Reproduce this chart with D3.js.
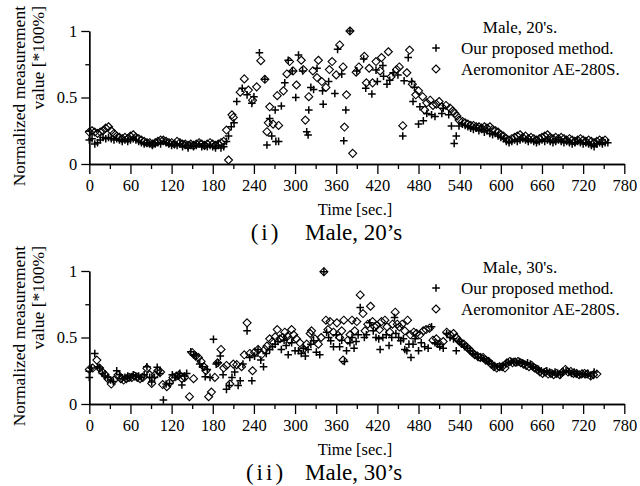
<!DOCTYPE html>
<html>
<head>
<meta charset="utf-8">
<script src="https://cdn.jsdelivr.net/npm/d3@7"></script>
<style>
  body { margin: 0; background: #fff; }
  svg { font-family: "Liberation Serif", "Times New Roman", serif; }
  .axis path, .axis line { stroke: #000; stroke-width: 1.3; }
  .axis text { font-size: 16.5px; fill: #000; font-family: "Liberation Serif", serif; }
</style>
</head>
<body>
<div id="container"></div>
<script>
const xMajor = [0, 60, 120, 180, 240, 300, 360, 420, 480, 540, 600, 660, 720, 780]
const xMinor = [30, 90, 150, 210, 270, 330, 390, 450, 510, 570, 630, 690, 750]
const yMajor = [0, 0.5, 1]
const yMinor = [0.25, 0.75]
const seriesNames = ['Our proposed method.', 'Aeromonitor AE-280S.']

// Male, 20's  [time sec, normalized value]
const proposed20 = [[0,0.18],[4,0.19],[8,0.15],[12,0.16],[16,0.18],[20,0.20],[24,0.19],[28,0.20],[32,0.19],[36,0.18],[40,0.19],[44,0.18],[48,0.17],[52,0.18],[56,0.17],[60,0.18],[64,0.19],[68,0.18],[72,0.17],[76,0.16],[80,0.15],[84,0.16],[88,0.15],[92,0.14],[96,0.15],[100,0.16],[104,0.15],[108,0.17],[112,0.16],[116,0.15],[120,0.14],[124,0.15],[128,0.14],[132,0.15],[136,0.13],[140,0.14],[144,0.12],[148,0.14],[152,0.13],[156,0.14],[160,0.15],[164,0.13],[168,0.14],[172,0.13],[176,0.14],[180,0.13],[184,0.12],[188,0.14],[192,0.12],[196,0.13],[200,0.17],[203,0.21],[207,0.28],[211,0.31],[215,0.47],[223,0.57],[230,0.52],[237,0.456],[240,0.505],[248,0.837],[256,0.637],[259,0.143],[263,0.343],[266,0.21],[271,0.406],[272,0.17],[276,0.17],[280,0.436],[285,0.61],[290,0.78],[296,0.70],[301,0.50],[305,0.82],[311,0.70],[317,0.243],[319,0.218],[320,0.406],[323,0.576],[327,0.56],[332,0.72],[340,0.55],[341,0.45],[349,0.62],[358,0.53],[362,0.862],[368,0.676],[371,0.175],[374,0.406],[380,1.0],[390,0.70],[400,0.79],[403,0.57],[412,0.526],[418,0.706],[420,0.62],[428,0.74],[429,0.66],[434,0.60],[438,0.63],[443,0.686],[450,0.669],[457,0.21],[459,0.626],[465,0.80],[470,0.62],[472,0.47],[474,0.577],[480,0.30],[482,0.43],[487,0.325],[492,0.38],[499,0.37],[504,0.357],[514,0.38],[516,0.42],[524,0.37],[528,0.286],[532,0.155],[535,0.21],[539,0.286],[544,0.30],[548,0.29],[552,0.28],[556,0.27],[560,0.26],[564,0.27],[568,0.25],[572,0.26],[576,0.24],[580,0.25],[584,0.23],[588,0.22],[592,0.23],[596,0.21],[600,0.20],[604,0.19],[608,0.17],[612,0.16],[616,0.17],[620,0.18],[624,0.17],[628,0.18],[632,0.19],[636,0.18],[640,0.17],[644,0.18],[648,0.17],[652,0.16],[656,0.17],[660,0.18],[664,0.17],[668,0.18],[672,0.17],[676,0.16],[680,0.17],[684,0.18],[688,0.17],[692,0.16],[696,0.17],[700,0.16],[704,0.15],[708,0.16],[712,0.17],[716,0.16],[720,0.15],[724,0.16],[728,0.15],[732,0.14],[736,0.13],[740,0.15],[744,0.16],[748,0.15],[752,0.16],[756,0.16]]

const aero20 = [[0,0.24],[4,0.25],[8,0.24],[12,0.23],[16,0.24],[20,0.25],[24,0.27],[28,0.28],[32,0.25],[36,0.23],[40,0.21],[44,0.20],[48,0.19],[52,0.20],[56,0.19],[60,0.21],[64,0.22],[68,0.20],[72,0.19],[76,0.18],[80,0.17],[84,0.16],[88,0.16],[92,0.15],[96,0.16],[100,0.17],[104,0.18],[108,0.18],[112,0.17],[116,0.16],[120,0.16],[124,0.15],[128,0.17],[132,0.16],[136,0.15],[140,0.15],[144,0.14],[148,0.15],[152,0.14],[156,0.15],[160,0.16],[164,0.15],[168,0.14],[172,0.15],[176,0.16],[180,0.15],[184,0.14],[188,0.15],[192,0.16],[196,0.17],[200,0.255],[203,0.03],[208,0.37],[210,0.35],[220,0.54],[226,0.64],[232,0.556],[238,0.48],[244,0.58],[250,0.777],[256,0.637],[259,0.243],[261,0.31],[263,0.43],[268,0.30],[274,0.514],[276,0.29],[283,0.55],[288,0.677],[292,0.77],[297,0.70],[302,0.594],[309,0.78],[312,0.71],[315,0.33],[320,0.506],[326,0.70],[332,0.65],[334,0.78],[339,0.62],[345,0.576],[350,0.71],[354,0.77],[360,0.67],[365,0.895],[370,0.73],[372,0.278],[375,0.52],[380,1.0],[384,0.08],[389,0.69],[393,0.73],[401,0.81],[404,0.61],[408,0.72],[413,0.61],[418,0.77],[424,0.70],[426,0.80],[436,0.844],[440,0.656],[448,0.711],[452,0.73],[457,0.288],[463,0.686],[467,0.857],[471,0.60],[476,0.52],[480,0.55],[486,0.506],[489,0.406],[492,0.46],[497,0.48],[501,0.44],[506,0.45],[510,0.47],[514,0.43],[520,0.44],[526,0.42],[530,0.40],[533,0.38],[536,0.36],[539,0.33],[544,0.32],[548,0.31],[552,0.30],[556,0.29],[560,0.29],[564,0.28],[568,0.28],[572,0.27],[576,0.28],[580,0.27],[584,0.28],[588,0.26],[592,0.25],[596,0.24],[600,0.22],[604,0.21],[608,0.19],[612,0.18],[616,0.19],[620,0.20],[624,0.21],[628,0.22],[632,0.20],[636,0.21],[640,0.19],[644,0.20],[648,0.19],[652,0.18],[656,0.19],[660,0.20],[664,0.21],[668,0.22],[672,0.20],[676,0.19],[680,0.20],[684,0.19],[688,0.20],[692,0.19],[696,0.18],[700,0.19],[704,0.18],[708,0.17],[712,0.18],[716,0.19],[720,0.18],[724,0.17],[728,0.18],[732,0.17],[736,0.16],[740,0.17],[744,0.18],[748,0.17],[752,0.18]]

// Male, 30's
const proposed30 = [[0,0.20],[3,0.27],[8,0.38],[12,0.28],[15,0.27],[19,0.23],[23,0.21],[27,0.20],[31,0.18],[35,0.17],[40,0.25],[44,0.22],[48,0.19],[52,0.20],[56,0.21],[60,0.20],[64,0.22],[68,0.21],[72,0.21],[76,0.20],[80,0.22],[84,0.28],[88,0.20],[91,0.165],[95,0.20],[99,0.276],[103,0.23],[108,0.03],[112,0.15],[117,0.155],[121,0.22],[125,0.20],[129,0.21],[132,0.23],[135,0.143],[139,0.21],[142,0.23],[148,0.393],[152,0.37],[156,0.36],[161,0.30],[165,0.28],[169,0.205],[172,0.26],[176,0.20],[181,0.486],[185,0.30],[188,0.31],[191,0.36],[195,0.22],[200,0.11],[204,0.14],[208,0.20],[212,0.24],[217,0.14],[220,0.175],[224,0.30],[230,0.55],[234,0.35],[237,0.175],[241,0.36],[246,0.41],[250,0.33],[254,0.28],[258,0.38],[263,0.41],[267,0.43],[271,0.45],[275,0.47],[280,0.41],[284,0.48],[287,0.44],[290,0.37],[295,0.46],[300,0.40],[305,0.40],[309,0.38],[312,0.42],[315,0.36],[319,0.41],[323,0.45],[327,0.475],[331,0.39],[336,0.37],[342,0.995],[346,0.54],[349,0.50],[352,0.475],[356,0.43],[360,0.52],[365,0.43],[368,0.48],[372,0.32],[375,0.40],[380,0.46],[383,0.50],[386,0.42],[389,0.47],[392,0.52],[395,0.725],[401,0.50],[404,0.52],[409,0.61],[414,0.55],[418,0.50],[422,0.49],[424,0.41],[428,0.50],[433,0.52],[437,0.44],[441,0.50],[445,0.65],[447,0.53],[451,0.50],[454,0.475],[458,0.49],[460,0.41],[463,0.40],[466,0.45],[469,0.35],[472,0.45],[475,0.49],[480,0.40],[484,0.46],[489,0.43],[494,0.42],[499,0.58],[504,0.46],[508,0.45],[511,0.43],[516,0.42],[521,0.53],[526,0.50],[531,0.49],[535,0.40],[539,0.47],[543,0.45],[547,0.43],[551,0.42],[555,0.40],[559,0.38],[563,0.37],[567,0.35],[571,0.35],[575,0.34],[579,0.33],[583,0.32],[587,0.30],[591,0.29],[595,0.28],[599,0.28],[603,0.29],[607,0.30],[611,0.31],[615,0.32],[619,0.32],[623,0.31],[627,0.32],[631,0.31],[635,0.30],[639,0.31],[643,0.30],[647,0.28],[651,0.27],[655,0.26],[659,0.25],[663,0.24],[667,0.25],[671,0.24],[675,0.23],[679,0.24],[683,0.23],[687,0.22],[691,0.24],[695,0.25],[699,0.24],[703,0.23],[707,0.24],[711,0.23],[715,0.22],[719,0.23],[723,0.22],[727,0.23],[731,0.21],[736,0.24]]

const aero30 = [[0,0.26],[5,0.27],[11,0.33],[15,0.27],[19,0.24],[23,0.22],[27,0.19],[32,0.15],[36,0.18],[42,0.22],[46,0.19],[50,0.18],[54,0.19],[58,0.20],[62,0.20],[66,0.21],[70,0.20],[74,0.19],[78,0.20],[84,0.268],[88,0.22],[91,0.155],[96,0.22],[100,0.25],[104,0.24],[107,0.146],[113,0.13],[117,0.16],[122,0.20],[127,0.21],[131,0.22],[135,0.19],[139,0.20],[146,0.055],[150,0.386],[152,0.19],[155,0.36],[159,0.35],[163,0.32],[167,0.28],[170,0.25],[174,0.055],[178,0.09],[183,0.20],[187,0.31],[192,0.41],[196,0.27],[200,0.29],[205,0.15],[210,0.30],[215,0.296],[222,0.28],[226,0.37],[230,0.61],[234,0.38],[238,0.25],[241,0.39],[246,0.41],[251,0.37],[256,0.41],[259,0.435],[263,0.49],[267,0.47],[271,0.505],[274,0.56],[278,0.49],[282,0.50],[285,0.54],[289,0.51],[292,0.48],[295,0.56],[298,0.52],[302,0.49],[307,0.46],[312,0.41],[317,0.45],[322,0.53],[324,0.55],[329,0.49],[334,0.45],[338,0.50],[342,0.995],[345,0.63],[348,0.56],[351,0.62],[356,0.54],[361,0.61],[365,0.50],[368,0.55],[370,0.33],[371,0.63],[377,0.48],[380,0.52],[383,0.63],[387,0.55],[390,0.62],[395,0.82],[399,0.68],[402,0.55],[406,0.60],[410,0.735],[413,0.62],[416,0.58],[419,0.59],[423,0.56],[426,0.62],[431,0.63],[434,0.58],[438,0.54],[442,0.60],[446,0.69],[449,0.60],[452,0.58],[456,0.60],[460,0.55],[464,0.63],[468,0.52],[473,0.54],[477,0.53],[482,0.52],[487,0.55],[491,0.56],[496,0.57],[501,0.48],[506,0.49],[511,0.45],[516,0.47],[521,0.54],[526,0.52],[531,0.53],[535,0.50],[538,0.48],[542,0.46],[546,0.45],[550,0.43],[554,0.41],[558,0.39],[562,0.37],[566,0.36],[570,0.35],[574,0.35],[578,0.33],[582,0.32],[586,0.30],[590,0.28],[594,0.27],[598,0.28],[602,0.28],[606,0.27],[609,0.31],[613,0.32],[617,0.31],[621,0.315],[625,0.32],[629,0.31],[633,0.30],[637,0.29],[641,0.28],[645,0.29],[649,0.27],[653,0.26],[657,0.24],[661,0.23],[665,0.24],[669,0.225],[673,0.23],[677,0.22],[681,0.23],[686,0.22],[690,0.24],[694,0.26],[698,0.24],[702,0.245],[706,0.23],[710,0.23],[714,0.22],[718,0.225],[722,0.23],[726,0.225],[731,0.21],[735,0.22],[740,0.225]]

const w = 640
const h = 486

const plusPath = 'M-3.8,0H3.8M0,-3.8V3.8'
const diamondPath = 'M0,-4L4,0L0,4L-4,0Z'

const svg = d3.select('#container')
    .append('svg')
    .attr('width', w)
    .attr('height', h)

function drawPanel(top, title, numeral, caption, plusData, diaData) {
    const x = d3.scaleLinear([0, 780], [89.3, 624.3])
    const y = d3.scaleLinear([0, 1], [top + 133, top])
    const g = svg.append('g')

    // axes
    g.append('g').attr('class', 'axis')
        .attr('transform', `translate(0,${y(0)})`)
        .call(d3.axisBottom(x).tickValues(xMinor).tickSize(5).tickSizeOuter(0).tickFormat(''))
    g.append('g').attr('class', 'axis')
        .attr('transform', `translate(0,${y(0)})`)
        .call(d3.axisBottom(x).tickValues(xMajor).tickSize(10).tickSizeOuter(0).tickPadding(5))
    g.append('g').attr('class', 'axis')
        .attr('transform', `translate(${x(0)},0)`)
        .call(d3.axisLeft(y).tickValues(yMinor).tickSize(4).tickSizeOuter(0).tickFormat(''))
    g.append('g').attr('class', 'axis')
        .attr('transform', `translate(${x(0)},0)`)
        .call(d3.axisLeft(y).tickValues(yMajor).tickSize(8).tickSizeOuter(0).tickPadding(4).tickFormat(d => d))

    g.selectAll('.axis text').attr('font-family', '"Liberation Serif", serif')

    // y label
    const yl = g.append('g').attr('font-size', 17.5).attr('text-anchor', 'end')
    yl.append('text').attr('transform', `translate(25,${top - 25}) rotate(-90)`).text('Normalized measurement')
    yl.append('text').attr('transform', `translate(44,${top - 25}) rotate(-90)`).text('value [*100%]')

    g.append('text')
        .attr('x', 355).attr('y', y(0) + 51)
        .attr('text-anchor', 'middle').attr('font-size', 16.5)
        .text('Time [sec.]')

    // caption
    g.append('text')
        .attr('x', 266).attr('y', y(0) + 76)
        .attr('text-anchor', 'middle').attr('font-size', 23)
        .attr('letter-spacing', 3)
        .text(numeral)
    g.append('text')
        .attr('x', 305).attr('y', y(0) + 76)
        .attr('font-size', 23)
        .text(caption)

    // marks
    g.append('g').selectAll('path')
        .data(plusData)
        .enter()
        .append('path')
        .attr('d', plusPath)
        .attr('transform', d => `translate(${x(d[0])},${y(d[1])})`)
        .attr('stroke', '#000')
        .attr('stroke-width', 1.5)
        .attr('fill', 'none')

    g.append('g').selectAll('path')
        .data(diaData)
        .enter()
        .append('path')
        .attr('d', diamondPath)
        .attr('transform', d => `translate(${x(d[0])},${y(d[1])})`)
        .attr('stroke', '#000')
        .attr('stroke-width', 1.1)
        .attr('fill', 'none')

    // legend
    const lg = g.append('g').attr('font-size', 17)
    lg.append('text').attr('x', 520).attr('y', top + 2).attr('text-anchor', 'middle').text(title)
    lg.append('path').attr('d', plusPath).attr('transform', `translate(436,${top + 17})`)
        .attr('stroke', '#000').attr('stroke-width', 1.5)
    lg.append('text').attr('x', 461).attr('y', top + 23).text(seriesNames[0])
    lg.append('path').attr('d', diamondPath).attr('transform', `translate(436,${top + 38})`)
        .attr('stroke', '#000').attr('stroke-width', 1.1).attr('fill', 'none')
    lg.append('text').attr('x', 461).attr('y', top + 44).text(seriesNames[1])
}

drawPanel(31, "Male, 20's.", '(i)', 'Male, 20’s', proposed20, aero20)
drawPanel(271, "Male, 30's.", '(ii)', 'Male, 30’s', proposed30, aero30)
</script>
</body>
</html>
